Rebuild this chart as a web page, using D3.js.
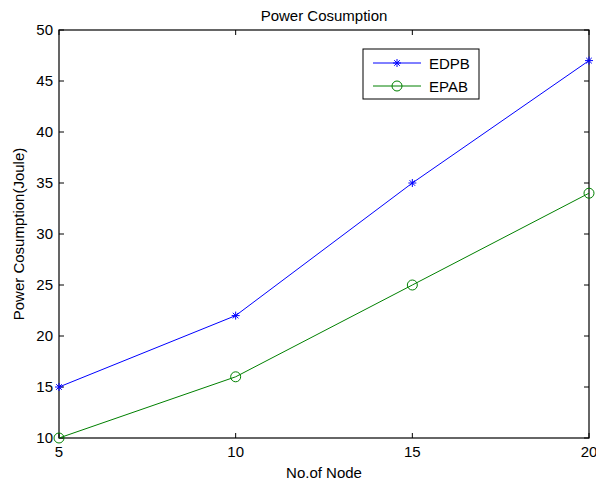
<!DOCTYPE html>
<html><head><meta charset="utf-8">
<script src="https://cdn.jsdelivr.net/npm/d3@7"></script>
<style>body{margin:0;background:#fff}svg{display:block}text{font-family:"Liberation Sans",Arial,sans-serif;fill:#000}</style>
</head><body>
<script>
const nodes = [5, 10, 15, 20];
const edpb = [15, 22, 35, 47];
const epab = [10, 16, 25, 34];
const xTicks = [5, 10, 15, 20];
const yTicks = [10, 15, 20, 25, 30, 35, 40, 45, 50];

const W = 596, H = 484;
const m = {left: 59, right: 7, top: 30, bottom: 46};
const svg = d3.select("body").append("svg").attr("width", W).attr("height", H);
const x = d3.scaleLinear().domain([5, 20]).range([m.left, W - m.right]);
const y = d3.scaleLinear().domain([10, 50]).range([H - m.bottom, m.top]);
const fs = 15;

// ticks inward
const tl = 5;
const g = svg.append("g");
xTicks.forEach(t => {
  g.append("line").attr("x1", x(t)).attr("x2", x(t)).attr("y1", y(10)).attr("y2", y(10) - tl).attr("stroke", "#000");
  g.append("line").attr("x1", x(t)).attr("x2", x(t)).attr("y1", y(50)).attr("y2", y(50) + tl).attr("stroke", "#000");
  g.append("text").attr("x", x(t)).attr("y", y(10) + 19).attr("text-anchor", "middle").attr("font-size", fs).text(t);
});
yTicks.forEach(t => {
  g.append("line").attr("x1", x(5)).attr("x2", x(5) + tl).attr("y1", y(t)).attr("y2", y(t)).attr("stroke", "#000");
  g.append("line").attr("x1", x(20)).attr("x2", x(20) - tl).attr("y1", y(t)).attr("y2", y(t)).attr("stroke", "#000");
  g.append("text").attr("x", x(5) - 6).attr("y", y(t) + 5.3).attr("text-anchor", "end").attr("font-size", fs).text(t);
});
svg.append("rect").attr("x", x(5)).attr("y", y(50)).attr("width", x(20) - x(5)).attr("height", y(10) - y(50))
  .attr("fill", "none").attr("stroke", "#000").attr("stroke-width", 1.2);

const line = d3.line().x((d, i) => x(nodes[i])).y(d => y(d));
function star(gg, cx, cy, col) {
  const r = 4;
  gg.append("path").attr("d", `M${cx - r},${cy}H${cx + r}M${cx},${cy - r}V${cy + r}M${cx - r * .7},${cy - r * .7}L${cx + r * .7},${cy + r * .7}M${cx - r * .7},${cy + r * .7}L${cx + r * .7},${cy - r * .7}`)
    .attr("stroke", col).attr("fill", "none");
}
const blue = "#0000ff", green = "#008000";
svg.append("path").attr("d", line(edpb)).attr("fill", "none").attr("stroke", blue);
edpb.forEach((d, i) => star(svg, x(nodes[i]), y(d), blue));
svg.append("path").attr("d", line(epab)).attr("fill", "none").attr("stroke", green);
epab.forEach((d, i) => svg.append("circle").attr("cx", x(nodes[i])).attr("cy", y(d)).attr("r", 5).attr("fill", "none").attr("stroke", green));

// legend
const lg = svg.append("g");
lg.append("rect").attr("x", 363).attr("y", 49).attr("width", 116).attr("height", 50).attr("fill", "#fff").attr("stroke", "#000");
lg.append("line").attr("x1", 373).attr("x2", 421).attr("y1", 63).attr("y2", 63).attr("stroke", blue);
star(lg, 397, 63, blue);
lg.append("text").attr("x", 429).attr("y", 68.5).attr("font-size", fs).text("EDPB");
lg.append("line").attr("x1", 373).attr("x2", 421).attr("y1", 86).attr("y2", 86).attr("stroke", green);
lg.append("circle").attr("cx", 397).attr("cy", 86).attr("r", 5).attr("fill", "none").attr("stroke", green);
lg.append("text").attr("x", 429).attr("y", 91.5).attr("font-size", fs).text("EPAB");

svg.append("text").attr("x", 324).attr("y", 21).attr("text-anchor", "middle").attr("font-size", fs).text("Power Cosumption");
svg.append("text").attr("x", 324).attr("y", 478).attr("text-anchor", "middle").attr("font-size", fs).text("No.of Node");
svg.append("text").attr("transform", `translate(24,${(y(10) + y(50)) / 2}) rotate(-90)`).attr("text-anchor", "middle").attr("font-size", fs).text("Power Cosumption(Joule)");
</script>
</body></html>
